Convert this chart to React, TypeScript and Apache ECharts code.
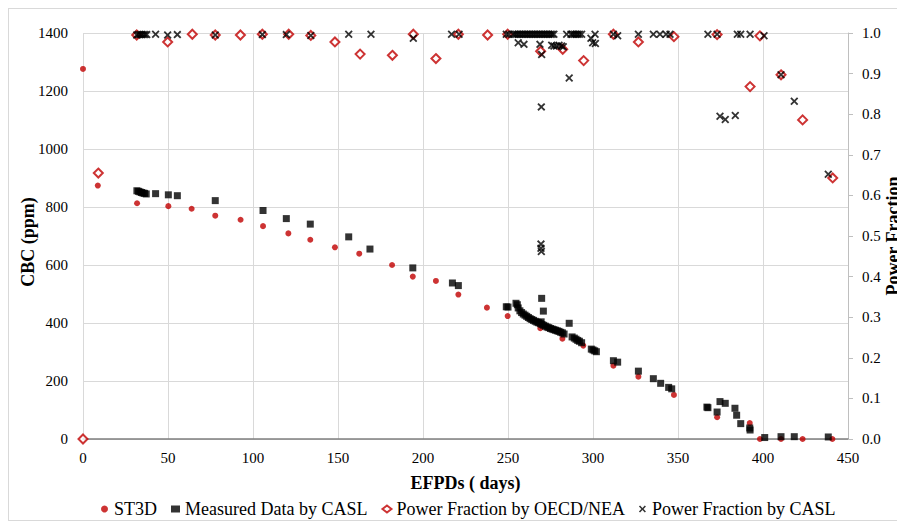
import React, { useEffect, useRef } from 'react';
import * as echarts from 'echarts';

// [EFPD (days), CBC (ppm)]
const ST3D: [number, number][] = [
  [0, 1276], [8.7, 874], [31.8, 813], [50.2, 803], [63.9, 794], [77.8, 770], [92.7, 756],
  [105.9, 734], [120.8, 709], [133.7, 687], [148.2, 661], [162.5, 639], [181.8, 600],
  [194, 560], [207.6, 545], [220.8, 498], [237.6, 453], [249.8, 424], [269, 382],
  [282, 346], [294.3, 322], [312, 253], [326.7, 215], [347.6, 152], [373, 75],
  [392.2, 55], [398.2, 0], [410.6, 0], [423.3, 0], [440.8, 0],
];

// [EFPD (days), CBC (ppm)]
const MEASURED_CASL: [number, number][] = [
  [31.7, 856], [32.6, 854], [33.5, 852], [34.4, 850], [35.3, 848], [36.2, 847], [37.2, 845],
  [42.7, 846], [50.2, 842], [55.5, 839], [77.8, 822], [105.9, 788], [119.6, 760],
  [133.7, 741], [156.3, 697], [168.8, 655], [194, 590], [217.3, 538], [220.8, 529],
  [249, 456], [250, 455], [254.7, 468],
  [255.5, 463], [256, 452], [257, 442], [258, 436], [259, 431], [260, 427], [261, 423],
  [262, 419], [263, 415], [264, 412], [265, 409], [266, 406], [267, 403], [268, 401],
  [269, 398], [270, 395], [271, 392], [272, 389], [273, 386], [274, 384], [275, 381],
  [276, 379], [277, 377], [278, 375], [279, 373], [280, 371], [281, 368], [282, 366],
  [283, 362], [269.8, 485], [270.8, 441], [269.5, 404],
  [286, 399], [287.7, 352], [289, 348], [290, 344], [291, 340], [292, 337], [293.3, 332],
  [299, 310], [300, 307], [301, 304], [302, 301], [312, 270], [314.5, 265],
  [326.7, 234], [335.5, 208], [339.8, 192], [344.5, 178], [346.3, 173],
  [367, 110], [367.6, 108], [373, 93], [374.7, 129], [377.8, 123], [383.5, 106],
  [384.5, 82], [386.9, 53], [392.2, 38], [392.4, 31], [401, 5], [410.6, 8], [418.4, 8],
  [438.4, 7],
];

// [EFPD (days), power fraction]
const PF_OECD: [number, number][] = [
  [0, 0], [9, 0.655], [31.6, 0.995], [49.8, 0.978], [64.3, 0.997], [77.8, 0.995],
  [92.6, 0.995], [105.5, 0.997], [121, 0.997], [134, 0.994], [148.2, 0.978], [163, 0.948],
  [182, 0.945], [194.3, 0.997], [207.6, 0.937], [220.8, 0.997], [238, 0.995],
  [249.8, 0.997], [269.2, 0.955], [282.2, 0.96], [294.5, 0.932], [312, 0.997],
  [326.7, 0.978], [347.6, 0.991], [373, 0.996], [392.4, 0.868], [398.2, 0.993],
  [410.6, 0.897], [423.3, 0.786], [441, 0.643],
];

// [EFPD (days), power fraction]
const PF_CASL: [number, number][] = [
  [31.6, 0.995], [32.5, 0.996], [33.5, 0.996], [34.5, 0.996], [35.5, 0.996], [36.5, 0.996],
  [37.5, 0.996], [42.7, 0.997], [49.8, 0.995], [55.5, 0.996], [77.8, 0.995], [105.5, 0.996],
  [119.6, 0.996], [134, 0.994], [156.3, 0.997], [169.4, 0.997], [194.3, 0.987],
  [216.8, 0.997], [221.2, 0.997], [249, 0.997], [250.5, 0.997],
  [253, 0.997], [254, 0.997], [255, 0.997], [256, 0.997], [257, 0.997], [258, 0.997],
  [259, 0.997], [260, 0.997], [261, 0.997], [262, 0.997], [263, 0.997], [264, 0.997],
  [265, 0.997], [266, 0.997], [267, 0.997], [268, 0.997], [269, 0.997], [270, 0.997],
  [271, 0.997], [272, 0.997], [273, 0.997], [274, 0.997], [275, 0.997], [276, 0.997],
  [277, 0.997],
  [256, 0.976], [259.4, 0.972], [268.8, 0.972], [269.8, 0.947], [269.6, 0.818],
  [269.4, 0.48], [269.4, 0.47], [269.6, 0.462],
  [275.7, 0.97], [277, 0.968], [278.5, 0.968], [280, 0.97], [281.5, 0.968], [282.5, 0.966],
  [286, 0.889], [284.5, 0.997], [287, 0.997], [288, 0.997], [289, 0.997], [290, 0.997],
  [291, 0.997], [292, 0.997], [293.3, 0.997], [298.8, 0.987], [299.8, 0.976],
  [301.2, 0.997], [301.4, 0.974], [312, 0.997], [314.5, 0.993], [326.7, 0.997],
  [335.5, 0.997], [339.4, 0.997], [343, 0.997], [345.3, 0.997], [367.6, 0.997],
  [373, 0.997], [374.7, 0.795], [377.8, 0.787], [383.7, 0.797], [384.9, 0.997],
  [386.9, 0.997], [392.4, 0.997], [400.6, 0.993], [410.6, 0.897], [418.4, 0.832],
  [438.4, 0.652],
];

const SERIES_NAMES = ['ST3D', 'Measured Data by CASL', 'Power Fraction by OECD/NEA', 'Power Fraction by CASL'];
const Y_LEFT_TITLE = 'CBC (ppm)';
const Y_RIGHT_TITLE = 'Power Fraction';
const X_TITLE = 'EFPDs ( days)';

const FONT = 'Liberation Serif';
const X_PATH =
  'path://M0,1.6 L1.6,0 L5,3.4 L8.4,0 L10,1.6 L6.6,5 L10,8.4 L8.4,10 L5,6.6 L1.6,10 L0,8.4 L3.4,5 Z';

export default function App() {
  const ref = useRef<HTMLDivElement>(null);

  useEffect(() => {
    if (!ref.current) return;
    const chart = echarts.init(ref.current, undefined, { renderer: 'svg' });
    const titleStyle = { fontSize: 18, fontWeight: 'bold', fill: '#000', fontFamily: FONT, align: 'center', verticalAlign: 'middle' };
    chart.setOption({
      animation: false,
      textStyle: { fontFamily: FONT },
      grid: { left: 74, top: 24, right: 56, bottom: 81, outerBoundsMode: 'none', containLabel: false },
      graphic: [
        { type: 'text', x: 19, y: 233, rotation: Math.PI / 2, silent: true, style: { ...titleStyle, text: Y_LEFT_TITLE } },
        { type: 'text', x: 884, y: 227, rotation: Math.PI / 2, silent: true, style: { ...titleStyle, text: Y_RIGHT_TITLE } },
      ],
      legend: {
        left: 87,
        top: 486,
        itemWidth: 9,
        itemHeight: 7,
        itemGap: 14,
        selectedMode: false,
        textStyle: { fontSize: 18, color: '#000', fontFamily: FONT },
        data: SERIES_NAMES,
      },
      xAxis: {
        type: 'value',
        min: 0,
        max: 450,
        interval: 50,
        name: X_TITLE,
        nameLocation: 'middle',
        nameGap: 35,
        nameTextStyle: { fontSize: 18, fontWeight: 'bold', color: '#000', fontFamily: FONT },
        axisLine: { show: true, onZero: false, lineStyle: { color: '#7f7f7f', width: 1.5 } },
        axisTick: { show: false },
        axisLabel: {
          fontSize: 15,
          color: '#000',
          margin: 11,
          fontFamily: FONT,
          formatter: (v: number) => String(v),
        },
        splitLine: { show: true, lineStyle: { color: '#d9d9d9', width: 1 } },
      },
      yAxis: [
        {
          type: 'value',
          min: 0,
          max: 1400,
          interval: 200,
          axisLine: { show: false },
          axisTick: { show: false },
          axisLabel: {
            fontSize: 15,
            color: '#000',
            margin: 15,
            fontFamily: FONT,
            formatter: (v: number) => String(v),
          },
          splitLine: { show: true, lineStyle: { color: '#d9d9d9', width: 1 } },
        },
        {
          type: 'value',
          position: 'right',
          min: 0,
          max: 1,
          interval: 0.1,
          axisLine: { show: true, lineStyle: { color: '#bfbfbf', width: 1 } },
          axisTick: { show: true, length: 5, lineStyle: { color: '#bfbfbf' } },
          axisLabel: {
            fontSize: 15,
            color: '#000',
            margin: 14,
            fontFamily: FONT,
            formatter: (v: number) => v.toFixed(1),
          },
          splitLine: { show: false },
        },
      ],
      series: [
        {
          name: SERIES_NAMES[0],
          type: 'scatter',
          yAxisIndex: 0,
          data: ST3D,
          symbol: 'circle',
          symbolSize: 6,
          itemStyle: { color: '#c00000' },
          silent: true,
        },
        {
          name: SERIES_NAMES[1],
          type: 'scatter',
          yAxisIndex: 0,
          data: MEASURED_CASL,
          symbol: 'rect',
          symbolSize: 7,
          itemStyle: { color: '#000' },
          silent: true,
        },
        {
          name: SERIES_NAMES[2],
          type: 'scatter',
          yAxisIndex: 1,
          data: PF_OECD,
          symbol: 'diamond',
          symbolSize: 9,
          itemStyle: { color: '#fff', borderColor: '#c00000', borderWidth: 2 },
          silent: true,
        },
        {
          name: SERIES_NAMES[3],
          type: 'scatter',
          yAxisIndex: 1,
          data: PF_CASL,
          symbol: X_PATH,
          symbolSize: 8,
          itemStyle: { color: '#000' },
          silent: true,
        },
      ],
    });
    return () => chart.dispose();
  }, []);

  return (
    <div
      ref={ref}
      style={{
        width: 897,
        height: 513,
        border: '1px solid #d9d9d9',
        boxSizing: 'border-box',
      }}
    />
  );
}
